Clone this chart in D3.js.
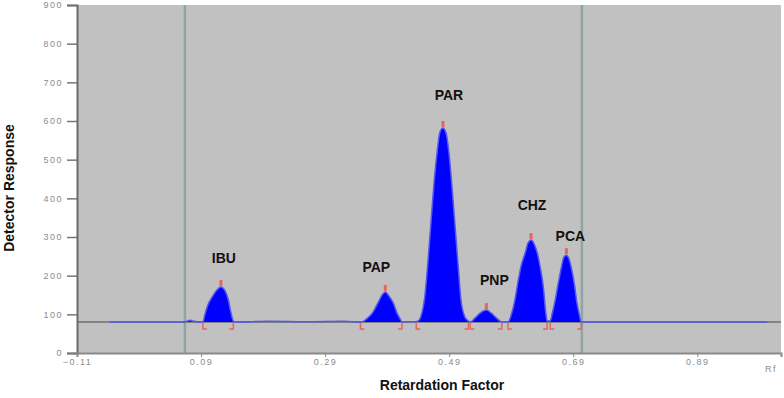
<!DOCTYPE html>
<meta charset="utf-8">

<!-- Load d3.js -->
<script src="https://d3js.org/d3.v7.min.js"></script>

<style>
  body { margin: 0; background: #fff; }
</style>

<!-- Create a div where the graph will take place -->
<div id="my_dataviz"></div>

<script>
    // tick values
    var yTicks = [0, 100, 200, 300, 400, 500, 600, 700, 800, 900];
    var xTicks = [-0.11, 0.09, 0.29, 0.49, 0.69, 0.89];

    // peaks
    var peakNames = ["IBU", "PAP", "PAR", "PNP", "CHZ", "PCA"];
    var peakRf = [0.122, 0.387, 0.480, 0.550, 0.622, 0.679];
    var peakHeight = [171, 158, 582, 111, 292, 253];
    var peakStart = [0.093, 0.347, 0.437, 0.524, 0.585, 0.653];
    var peakEnd = [0.142, 0.414, 0.521, 0.575, 0.648, 0.703];

    // vertical guide lines (application / solvent front)
    var guideRf = [0.064, 0.704];
    var baseline = 80;

    // the scanned trace
    var traceRf = [-0.057, 0.060, 0.069, 0.072, 0.076, 0.093,
        0.096, 0.101, 0.108, 0.114, 0.122, 0.129, 0.134, 0.138, 0.142, 0.145,
        0.200, 0.260, 0.320, 0.348,
        0.359, 0.366, 0.375, 0.382, 0.387, 0.393, 0.400, 0.406, 0.411, 0.414,
        0.425, 0.435, 0.440, 0.450, 0.456, 0.461, 0.466, 0.471, 0.475, 0.480,
        0.485, 0.490, 0.495, 0.500, 0.505, 0.509, 0.516, 0.521,
        0.524, 0.532, 0.540, 0.550, 0.558, 0.566, 0.575,
        0.585, 0.590, 0.596, 0.601, 0.606, 0.613, 0.617, 0.622, 0.627, 0.632,
        0.637, 0.642, 0.645, 0.648,
        0.653, 0.656, 0.661, 0.666, 0.671, 0.675, 0.679, 0.682, 0.687, 0.692,
        0.696, 0.700, 0.703, 1.003];
    var traceResp = [80, 80, 83, 85, 83, 80,
        98, 124, 145, 160, 171, 160, 137, 106, 83, 80,
        82, 81, 82, 80,
        91, 103, 129, 150, 158, 147, 129, 103, 88, 80,
        81, 81, 83, 137, 240, 344, 447, 525, 571, 582,
        569, 512, 421, 318, 215, 137, 91, 83,
        80, 91, 103, 111, 103, 91, 80,
        80, 98, 137, 184, 225, 261, 284, 292, 282, 259,
        220, 168, 116, 83,
        83, 101, 137, 181, 222, 248, 253, 248, 220, 176,
        129, 98, 80, 80];

    // label offsets from the apex (px)
    var labelDx = [3, -9, 6, 8, 1, 4];
    var labelDy = [-24, -20, -28, -25, -30, -14];

    var margin = { top: 5, right: 3, bottom: 45, left: 77 },
        width = 784 - margin.left - margin.right,
        height = 398 - margin.top - margin.bottom;

    var svg = d3.select("#my_dataviz")
        .append("svg")
        .attr("width", 784)
        .attr("height", 398)
        .style("font-family", "'Liberation Sans', Arial, sans-serif");

    var g = svg.append("g")
        .attr("transform", "translate(" + margin.left + "," + margin.top + ")");

    var x = d3.scaleLinear()
        .domain([-0.11, 1.025])
        .range([0, width]);
    var y = d3.scaleLinear()
        .domain([0, 900])
        .range([height, 0]);

    // plot background
    g.append("rect")
        .attr("width", width)
        .attr("height", height)
        .attr("fill", "#c1c1c1");

    // guide lines
    g.selectAll("guide")
        .data(guideRf)
        .enter()
        .append("line")
        .attr("x1", function (d) { return x(d); })
        .attr("x2", function (d) { return x(d); })
        .attr("y1", 0)
        .attr("y2", height)
        .attr("stroke", "#8fa4a4")
        .attr("stroke-width", 2.5);

    // gray baseline underneath
    g.append("line")
        .attr("x1", 0)
        .attr("x2", width)
        .attr("y1", y(baseline))
        .attr("y2", y(baseline))
        .attr("stroke", "#6e6e6e")
        .attr("stroke-width", 1.5);

    var trace = traceRf.map(function (d, i) { return [d, traceResp[i]]; });

    // filled peaks
    var area = d3.area()
        .x(function (d) { return x(d[0]); })
        .y0(y(baseline))
        .y1(function (d) { return y(d[1]); })
        .curve(d3.curveMonotoneX);
    g.append("path")
        .datum(trace)
        .attr("d", area)
        .attr("fill", "#0000ff");

    var line = d3.line()
        .x(function (d) { return x(d[0]); })
        .y(function (d) { return y(d[1]); })
        .curve(d3.curveMonotoneX);
    g.append("path")
        .datum(trace)
        .attr("d", line)
        .attr("fill", "none")
        .attr("stroke", "#5656f0")
        .attr("stroke-width", 1.5);

    // integration markers
    var red = "#e8645c";
    var yb = y(baseline);
    g.selectAll("startMark")
        .data(peakStart)
        .enter()
        .append("path")
        .attr("d", function (d) {
            var px = x(d);
            return "M" + (px + 4) + "," + (yb + 7) + "H" + px + "V" + (yb + 1);
        })
        .attr("fill", "none")
        .attr("stroke", red)
        .attr("stroke-width", 1.5);
    g.selectAll("endMark")
        .data(peakEnd)
        .enter()
        .append("path")
        .attr("d", function (d) {
            var px = x(d);
            return "M" + (px - 4) + "," + (yb + 7) + "H" + px + "V" + (yb + 1);
        })
        .attr("fill", "none")
        .attr("stroke", red)
        .attr("stroke-width", 1.5);
    g.selectAll("apexMark")
        .data(peakRf)
        .enter()
        .append("rect")
        .attr("x", function (d) { return x(d) - 1.5; })
        .attr("y", function (d, i) { return y(peakHeight[i]) - 7; })
        .attr("width", 3)
        .attr("height", 6)
        .attr("fill", red);

    // peak labels
    g.selectAll("peakLabel")
        .data(peakNames)
        .enter()
        .append("text")
        .attr("x", function (d, i) { return x(peakRf[i]) + labelDx[i]; })
        .attr("y", function (d, i) { return y(peakHeight[i]) + labelDy[i]; })
        .attr("text-anchor", "middle")
        .style("font-size", "14px")
        .style("font-weight", "bold")
        .attr("fill", "#111")
        .text(function (d) { return d; });

    // Y axis
    var yAxis = g.append("g")
        .call(d3.axisLeft(y).tickValues(yTicks).tickSize(10).tickPadding(4));
    yAxis.select(".domain").attr("stroke", "#6a6a6a").attr("stroke-width", 2);
    yAxis.selectAll(".tick line").attr("stroke", "#777").attr("stroke-width", 1.5);
    yAxis.selectAll("text")
        .attr("fill", "#8c8c8c")
        .style("font-size", "9px")
        .style("letter-spacing", "1.5px");

    // X axis
    var xAxis = g.append("g")
        .attr("transform", "translate(0," + height + ")")
        .call(d3.axisBottom(x).tickValues(xTicks).tickSize(4).tickPadding(2)
            .tickFormat(d3.format(".2f")));
    xAxis.select(".domain").attr("stroke", "#8a8a8a").attr("stroke-width", 2);
    xAxis.selectAll(".tick line").attr("stroke", "#888");
    xAxis.selectAll("text")
        .attr("fill", "#8c8c8c")
        .style("font-size", "9px")
        .style("letter-spacing", "1.5px");

    svg.append("text")
        .attr("x", 771)
        .attr("y", 372)
        .attr("text-anchor", "middle")
        .attr("fill", "#8c8c8c")
        .style("font-size", "9px")
        .style("letter-spacing", "1.5px")
        .text("Rf");

    // axis titles
    svg.append("text")
        .attr("x", 442)
        .attr("y", 390)
        .attr("text-anchor", "middle")
        .style("font-size", "14px")
        .style("font-weight", "bold")
        .attr("fill", "#111")
        .text("Retardation Factor");

    svg.append("text")
        .attr("transform", "translate(14,188)rotate(-90)")
        .attr("text-anchor", "middle")
        .style("font-size", "14px")
        .style("font-weight", "bold")
        .attr("fill", "#111")
        .text("Detector Response");
</script>
